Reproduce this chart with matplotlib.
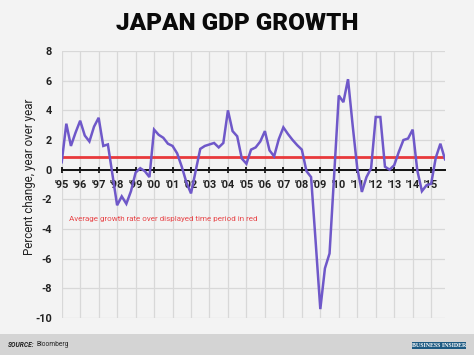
import matplotlib
matplotlib.use("Agg")
import matplotlib.pyplot as plt
from matplotlib.patches import Rectangle
import numpy as np

plt.rcParams['font.family'] = ['Roboto', 'DejaVu Sans']

# ---- data (quarterly, 1995 Q1 .. 2015 Q4) ----
start_year = 1995
growth = [
    0.5, 3.1, 1.6, 2.5,      # 1995
    3.3, 2.3, 1.9, 2.9,      # 1996
    3.5, 1.6, 1.7, -0.35,    # 1997
    -2.4, -1.8, -2.3, -1.45, # 1998
    -0.2, 0.1, -0.1, -0.5,   # 1999
    2.7, 2.35, 2.15, 1.75,   # 2000
    1.6, 1.1, 0.2, -0.85,    # 2001
    -1.6, -0.1, 1.4, 1.6,    # 2002
    1.7, 1.8, 1.5, 1.8,      # 2003
    4.0, 2.6, 2.25, 0.75,    # 2004
    0.4, 1.35, 1.5, 1.9,     # 2005
    2.6, 1.3, 0.9, 2.05,     # 2006
    2.85, 2.4, 2.0, 1.65,    # 2007
    1.35, -0.1, -0.5, -4.9,  # 2008
    -9.4, -6.65, -5.65, -0.35, # 2009
    5.0, 4.55, 6.1, 3.0,     # 2010
    0.1, -1.5, -0.5, 0.1,    # 2011
    3.55, 3.55, 0.2, 0.0,    # 2012
    0.3, 1.2, 2.0, 2.1,      # 2013
    2.7, -0.05, -1.45, -1.05, # 2014
    -0.95, 0.8, 1.75, 0.7,   # 2015
]
average_growth = 0.85
year_ticks = list(range(1995, 2016))
year_labels = ["'95", "'96", "'97", "'98", "'99", "'00", "'01", "'02", "'03", "'04",
               "'05", "'06", "'07", "'08", "'09", "'10", "'11", "'12", "'13", "'14", "'15"]
y_ticks = [8, 6, 4, 2, 0, -2, -4, -6, -8, -10]

quarters = start_year + np.arange(len(growth)) * 0.25

BG = '#f3f3f3'
fig = plt.figure(figsize=(4.74, 3.55), dpi=100, facecolor=BG)
ax = fig.add_axes([61.7/474, 1-318/355, (445-61.7)/474, (318-51)/355])
ax.set_facecolor(BG)

ax.set_xlim(1995, quarters[-1])
ax.set_ylim(-10, 8)

# grid
ax.set_yticks(y_ticks)
ax.set_yticklabels([str(v) for v in y_ticks])
ax.set_xticks(year_ticks)
ax.set_xticklabels(year_labels)
ax.grid(True, color='#d8d8d8', linewidth=0.9, zorder=0)
ax.set_axisbelow(True)

for s in ['top', 'right', 'left']:
    ax.spines[s].set_visible(False)
ax.spines['bottom'].set_position(('data', 0))
ax.spines['bottom'].set_color('#111111')
ax.spines['bottom'].set_linewidth(1.4)
ax.spines['bottom'].set_zorder(2)

ax.tick_params(axis='x', direction='inout', length=4.5, width=1.3, color='#111111',
               pad=5, labelsize=7.8, labelcolor='#222222')
ax.tick_params(axis='y', length=0, pad=7, labelsize=7.8, labelcolor='#222222')
for lab in ax.get_xticklabels() + ax.get_yticklabels():
    lab.set_fontweight('bold')

ax.axhline(average_growth, color='#e8393b', linewidth=2.0, zorder=3)
ax.plot(quarters, growth, color='#6f58c9', linewidth=1.8, zorder=4,
        solid_joinstyle='miter')

ax.text(0.019, 0.371, 'Average growth rate over displayed time period in red',
        transform=ax.transAxes, color='#e8474a', fontsize=5.8, va='center', ha='left')

fig.text(30/474, 1-177/355, 'Percent change, year over year', rotation=90,
         ha='center', va='center', fontsize=8.3, color='#222222')

fig.text(0.5, 1-23/355, 'JAPAN GDP GROWTH', ha='center', va='center',
         fontsize=17.5, fontweight='heavy', color='#0a0a0a')

# footer
fig.patches.append(Rectangle((0, 0), 1, 21/355, transform=fig.transFigure,
                             facecolor='#d4d4d4', edgecolor='none', zorder=0))
src = fig.text(8/474, 10.5/355, 'SOURCE:', fontsize=4.8, fontweight='bold', fontstyle='italic',
               color='#222222', va='center', ha='left')
fig.canvas.draw()
bb = src.get_window_extent(renderer=fig.canvas.get_renderer())
fig.text((bb.x1 + 2) / fig.bbox.width, 10.5/355, 'Bloomberg', fontsize=4.8,
         color='#222222', va='center', ha='left')
fig.patches.append(Rectangle((411.7/474, 6/355), 54/474, 7.5/355, transform=fig.transFigure,
                             facecolor='#1d5a82', edgecolor='none', zorder=1))
fig.text((411.7+27)/474, 9.75/355, 'BUSINESS INSIDER', fontsize=4.2,
         family=['Liberation Serif', 'DejaVu Serif'], fontweight='bold',
         color='white', ha='center', va='center', zorder=2)

fig.savefig('out.png', dpi=100, facecolor=BG)
